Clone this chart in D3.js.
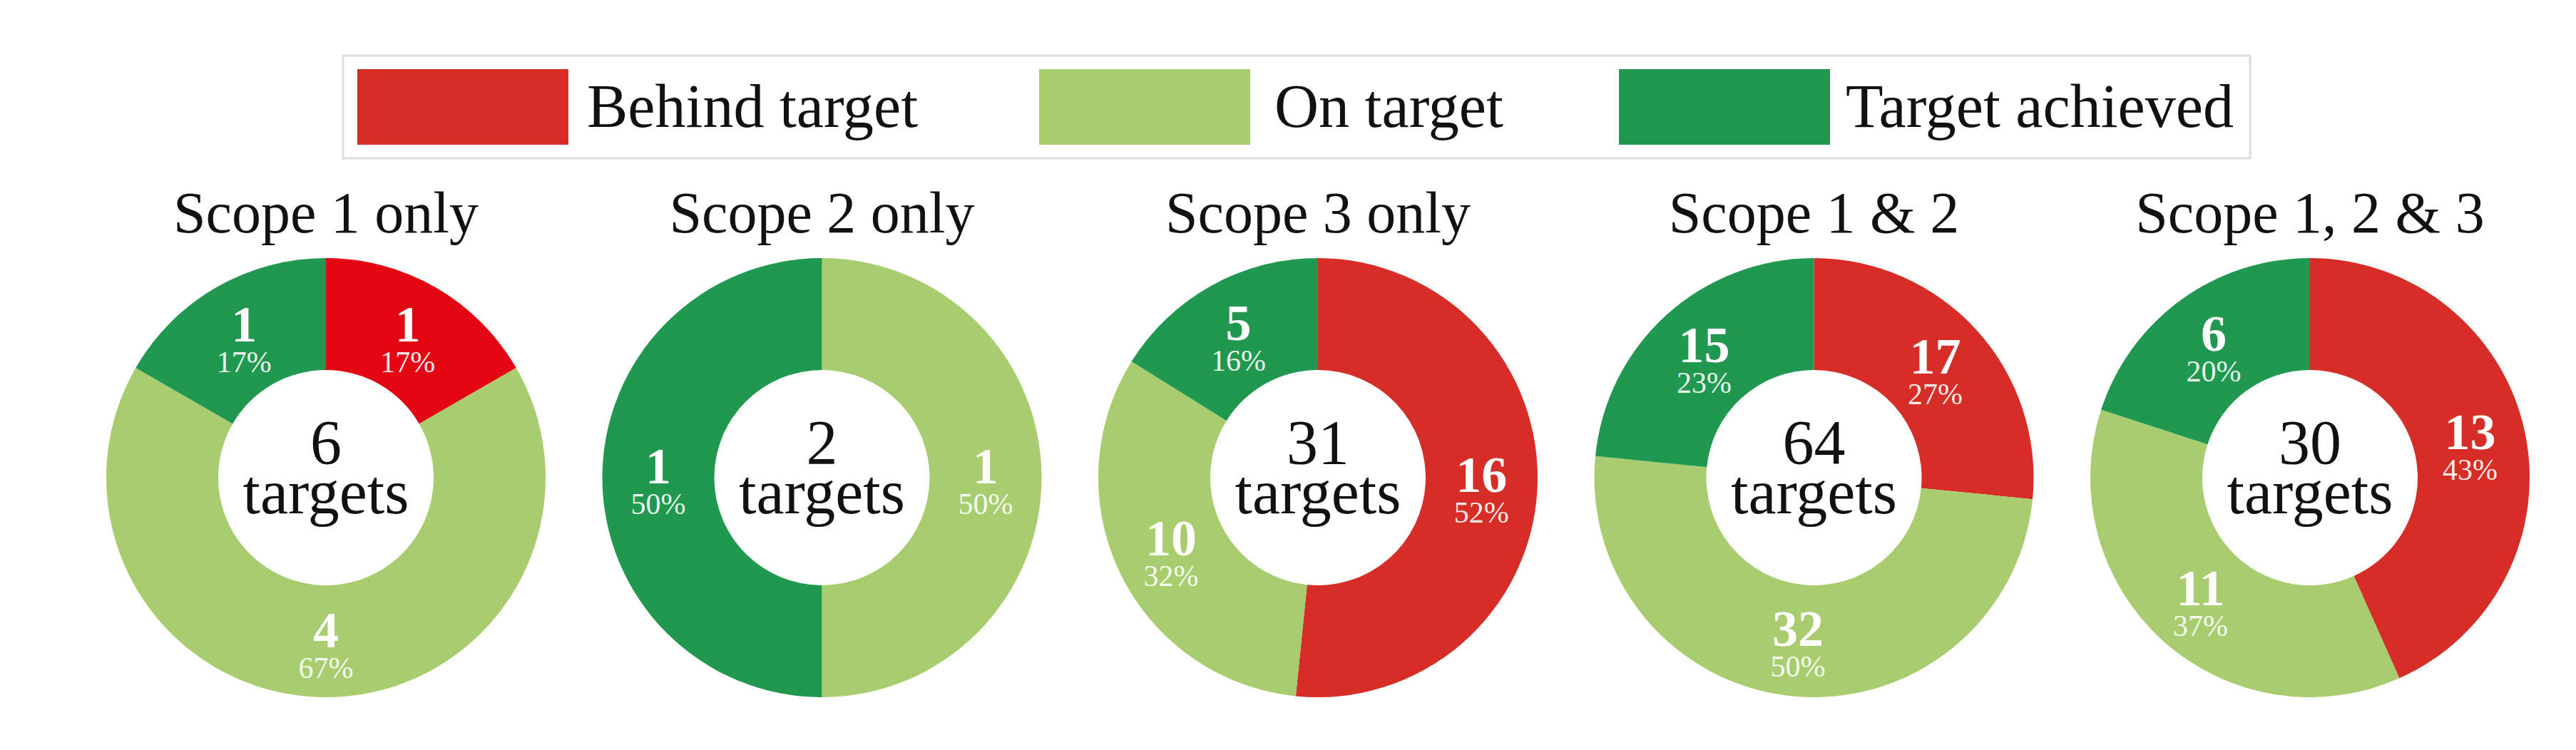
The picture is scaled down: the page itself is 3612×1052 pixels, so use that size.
<!DOCTYPE html>
<html><head><meta charset="utf-8">
<script src="https://cdn.jsdelivr.net/npm/d3@7"></script>
<style>html,body{margin:0;padding:0;background:#fff;} svg{display:block;}</style>
</head><body>
<svg id="chart" width="3612" height="1052"></svg>
<script>
// ---- data ----
const scopes = ["Scope 1 only", "Scope 2 only", "Scope 3 only", "Scope 1 & 2", "Scope 1, 2 & 3"];
const statuses = ["Behind target", "On target", "Target achieved"];
const behindTarget = [1, 0, 16, 17, 13];
const onTarget = [4, 1, 10, 32, 11];
const targetAchieved = [1, 1, 5, 15, 6];
const centerUnit = "targets";

// ---- styles ----
const statusColors = ["#d62d27", "#a8cd6e", "#21984f"];
const firstBehindColor = "#e30613";
const FONT = "'Liberation Serif', 'DejaVu Serif', serif";

const W = 3612, H = 1052;
const svg = d3.select("#chart");
svg.append("rect").attr("width", W).attr("height", H).attr("fill", "#fff");

const color = d3.scaleOrdinal().domain(statuses).range(statusColors);
const xPos = d3.scalePoint().domain(scopes).range([457, 3239]);
const cy = 670, rOuter = 308, rInner = 151;

// ---- legend ----
const legend = svg.append("g");
legend.append("rect").attr("x", 481).attr("y", 78).attr("width", 2674).attr("height", 144)
  .attr("fill", "#fff").attr("stroke", "#dedede").attr("stroke-width", 3);
const legendX = [501, 1457, 2270];
const legendLabelX = [823, 1787, 2588];
statuses.forEach((s, i) => {
  legend.append("rect").attr("x", legendX[i]).attr("y", 97).attr("width", 296).attr("height", 106)
    .attr("fill", color(s));
  legend.append("text").attr("x", legendLabelX[i]).attr("y", 178)
    .attr("font-family", FONT).attr("font-size", 86).attr("fill", "#111").text(s);
});

// ---- donuts ----
const pie = d3.pie().sort(null).value(d => d.value);
const arc = d3.arc().innerRadius(rInner).outerRadius(rOuter);
const pct = d3.format(".0%");

scopes.forEach((scope, i) => {
  const vals = [behindTarget[i], onTarget[i], targetAchieved[i]];
  const total = d3.sum(vals);
  const data = statuses.map((s, k) => ({ status: s, value: vals[k] }));
  const g = svg.append("g").attr("transform", `translate(${xPos(scope)},${cy})`);

  g.append("text").attr("x", 0).attr("y", 326 - cy).attr("text-anchor", "middle")
    .attr("font-family", FONT).attr("font-size", 82).attr("fill", "#111").text(scope);

  const arcs = pie(data).filter(d => d.data.value > 0);
  g.selectAll("path.seg").data(arcs).join("path").attr("class", "seg")
    .attr("d", arc)
    .attr("fill", d => (i === 0 && d.data.status === statuses[0]) ? firstBehindColor : color(d.data.status));

  const lab = g.selectAll("g.lab").data(arcs).join("g").attr("class", "lab")
    .attr("transform", d => `translate(${arc.centroid(d)})`);
  lab.append("text").attr("y", 8).attr("text-anchor", "middle")
    .attr("font-family", FONT).attr("font-size", 72).attr("font-weight", "bold").attr("fill", "#fff")
    .text(d => d.data.value);
  lab.append("text").attr("y", 51).attr("text-anchor", "middle")
    .attr("font-family", FONT).attr("font-size", 42).attr("fill", "#fff").attr("fill-opacity", 0.92)
    .text(d => pct(d.data.value / total));

  g.append("text").attr("y", -20).attr("text-anchor", "middle")
    .attr("font-family", FONT).attr("font-size", 88).attr("fill", "#111").text(total);
  g.append("text").attr("y", 50).attr("text-anchor", "middle")
    .attr("font-family", FONT).attr("font-size", 88).attr("fill", "#111").text(centerUnit);
});
</script>
</body></html>
